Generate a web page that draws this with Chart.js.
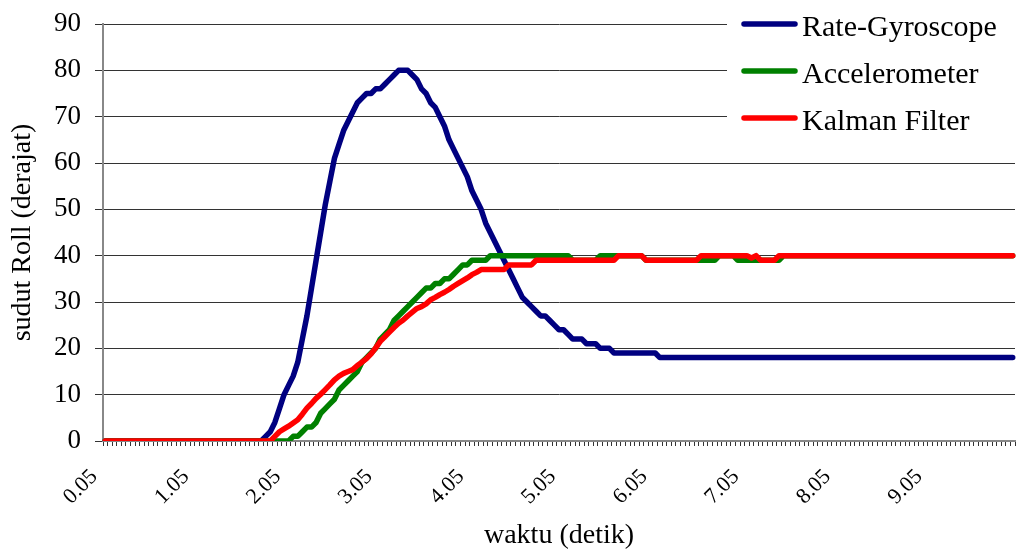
<!DOCTYPE html>
<html>
<head>
<meta charset="utf-8">
<title>sudut Roll</title>
<script src="https://cdn.jsdelivr.net/npm/chart.js@4.4.1/dist/chart.umd.min.js"></script>
<style>
  html, body { margin: 0; padding: 0; background: #fff; }
  canvas { display: block; }
</style>
</head>
<body>
<canvas id="rollChart" width="1016" height="554"></canvas>
<script>
// Roll angle of the board, sampled every 0.05 s
const SAMPLE_STEP = 0.05;
const SAMPLE_COUNT = 199;
const timeLabels = [];
for (let i = 1; i <= SAMPLE_COUNT; i++) timeLabels.push((i * SAMPLE_STEP).toFixed(2));

// only every 20th sample gets a label on the time axis
const shownTicks = ['0.05', '1.05', '2.05', '3.05', '4.05', '5.05', '6.05', '7.05', '8.05', '9.05'];
const yTicks = [0, 10, 20, 30, 40, 50, 60, 70, 80, 90];

const seriesNames = ['Rate-Gyroscope', 'Accelerometer', 'Kalman Filter'];
const seriesColors = ['#000080', '#008000', '#ff0000'];

const rateGyroscope = [
    0, 0, 0, 0, 0, 0, 0, 0, 0, 0, 0, 0, 0, 0, 0, 0, 0, 0, 0, 0,
    0, 0, 0, 0, 0, 0, 0, 0, 0, 0, 0, 0, 0, 0, 0, 1, 2, 4, 7, 10,
    12, 14, 17, 22, 27, 33, 39, 45, 51, 56, 61, 64, 67, 69, 71, 73, 74, 75, 75, 76,
    76, 77, 78, 79, 80, 80, 80, 79, 78, 76, 75, 73, 72, 70, 68, 65, 63, 61, 59, 57,
    54, 52, 50, 47, 45, 43, 41, 39, 37, 35, 33, 31, 30, 29, 28, 27, 27, 26, 25, 24,
    24, 23, 22, 22, 22, 21, 21, 21, 20, 20, 20, 19, 19, 19, 19, 19, 19, 19, 19, 19,
    19, 18, 18, 18, 18, 18, 18, 18, 18, 18, 18, 18, 18, 18, 18, 18, 18, 18, 18, 18,
    18, 18, 18, 18, 18, 18, 18, 18, 18, 18, 18, 18, 18, 18, 18, 18, 18, 18, 18, 18,
    18, 18, 18, 18, 18, 18, 18, 18, 18, 18, 18, 18, 18, 18, 18, 18, 18, 18, 18, 18,
    18, 18, 18, 18, 18, 18, 18, 18, 18, 18, 18, 18, 18, 18, 18, 18, 18, 18, 18
];

const accelerometer = [
    0, 0, 0, 0, 0, 0, 0, 0, 0, 0, 0, 0, 0, 0, 0, 0, 0, 0, 0, 0,
    0, 0, 0, 0, 0, 0, 0, 0, 0, 0, 0, 0, 0, 0, 0, 0, 0, 0, 0, 0,
    0, 1, 1, 2, 3, 3, 4, 6, 7, 8, 9, 11, 12, 13, 14, 15, 17, 18, 19, 20,
    22, 23, 24, 26, 27, 28, 29, 30, 31, 32, 33, 33, 34, 34, 35, 35, 36, 37, 38, 38,
    39, 39, 39, 39, 40, 40, 40, 40, 40, 40, 40, 40, 40, 40, 40, 40, 40, 40, 40, 40,
    40, 40, 39, 39, 39, 39, 39, 39, 40, 40, 40, 40, 40, 40, 40, 40, 40, 40, 39, 39,
    39, 39, 39, 39, 39, 39, 39, 39, 39, 39, 39, 39, 39, 39, 40, 40, 40, 40, 39, 39,
    39, 39, 39, 39, 39, 39, 39, 39, 40, 40, 40, 40, 40, 40, 40, 40, 40, 40, 40, 40,
    40, 40, 40, 40, 40, 40, 40, 40, 40, 40, 40, 40, 40, 40, 40, 40, 40, 40, 40, 40,
    40, 40, 40, 40, 40, 40, 40, 40, 40, 40, 40, 40, 40, 40, 40, 40, 40, 40, 40
];

const kalmanFilter = [
    0, 0, 0, 0, 0, 0, 0, 0, 0, 0, 0, 0, 0, 0, 0, 0, 0, 0, 0, 0,
    0, 0, 0, 0, 0, 0, 0, 0, 0, 0, 0, 0, 0, 0, 0, 0, 0, 1, 2, 2.6,
    3.2, 3.9, 4.6, 5.8, 7.1, 8.1, 9.2, 10.1, 11.1, 12.1, 13.2, 14, 14.6, 15, 15.4, 16.3, 17, 17.8, 18.8, 20.1,
    21.5, 22.5, 23.5, 24.5, 25.4, 26.1, 27, 27.8, 28.6, 29, 29.6, 30.5, 31, 31.6, 32.1, 32.7, 33.4, 34, 34.6, 35.2,
    35.9, 36.4, 37, 37, 37, 37, 37, 37, 38, 38, 38, 38, 38, 38, 39, 39, 39, 39, 39, 39,
    39, 39, 39, 39, 39, 39, 39, 39, 39, 39, 39, 39, 40, 40, 40, 40, 40, 40, 39, 39,
    39, 39, 39, 39, 39, 39, 39, 39, 39, 39, 40, 40, 40, 40, 40, 40, 40, 40, 40, 40,
    40, 39.5, 40, 39, 39, 39, 39, 40, 40, 40, 40, 40, 40, 40, 40, 40, 40, 40, 40, 40,
    40, 40, 40, 40, 40, 40, 40, 40, 40, 40, 40, 40, 40, 40, 40, 40, 40, 40, 40, 40,
    40, 40, 40, 40, 40, 40, 40, 40, 40, 40, 40, 40, 40, 40, 40, 40, 40, 40, 40
];

const SERIF = "'Liberation Serif', 'Times New Roman', serif";

// Legend sits in a white box over the top-right corner of the plot
const boxLegend = {
    id: 'boxLegend',
    afterDraw(chart) {
        const ctx = chart.ctx;
        ctx.save();
        ctx.fillStyle = '#fff';
        ctx.fillRect(727, 0, chart.width - 727, 142);
        ctx.font = '30px ' + SERIF;
        ctx.textBaseline = 'alphabetic';
        ctx.textAlign = 'left';
        seriesNames.forEach((name, i) => {
            const y = 24 + i * 47;
            ctx.strokeStyle = seriesColors[i];
            ctx.lineWidth = 5.5;
            ctx.lineCap = 'round';
            ctx.beginPath();
            ctx.moveTo(744, y);
            ctx.lineTo(795, y);
            ctx.stroke();
            ctx.fillStyle = '#000';
            ctx.fillText(name, 802, y + 12);
        });
        ctx.restore();
    }
};

function makeDataset(i, data) {
    return {
        label: seriesNames[i],
        data: data,
        borderColor: seriesColors[i],
        backgroundColor: seriesColors[i],
        borderWidth: 5.5,
        pointRadius: 0,
        tension: 0,
        borderJoinStyle: 'round',
        borderCapStyle: 'round',
        fill: false,
        order: 3 - i
    };
}

const ctx = document.getElementById('rollChart').getContext('2d');
const chart = new Chart(ctx, {
    type: 'line',
    data: {
        labels: timeLabels,
        datasets: [
            makeDataset(0, rateGyroscope),
            makeDataset(1, accelerometer),
            makeDataset(2, kalmanFilter)
        ]
    },
    options: {
        responsive: false,
        animation: false,
        devicePixelRatio: 1,
        layout: { padding: { top: 24, right: 1, left: 0, bottom: 0 } },
        plugins: {
            legend: { display: false },
            tooltip: { enabled: false }
        },
        scales: {
            x: {
                type: 'category',
                offset: true,
                grid: {
                    display: true,
                    drawOnChartArea: false,
                    drawTicks: true,
                    tickLength: 5,
                    tickColor: '#333',
                    offset: true
                },
                border: { display: true, color: '#888', width: 2 },
                ticks: {
                    autoSkip: false,
                    maxRotation: 45,
                    minRotation: 45,
                    padding: 18,
                    labelOffset: -11,
                    color: '#000',
                    font: { family: SERIF, size: 22 },
                    callback: function(value) {
                        const label = this.getLabelForValue(value);
                        return shownTicks.includes(label) ? label : '';
                    }
                },
                title: {
                    display: true,
                    text: 'waktu (detik)',
                    color: '#000',
                    font: { family: SERIF, size: 28 },
                    padding: { top: 0, bottom: 2 }
                },
                afterFit(scale) {
                    scale.height = 113;
                    scale.paddingLeft = 0;
                    scale.paddingRight = 0;
                }
            },
            y: {
                min: 0,
                max: 90,
                grid: {
                    color: '#333',
                    lineWidth: 1,
                    tickLength: 8,
                    tickColor: '#333'
                },
                border: { display: true, color: '#888', width: 2 },
                ticks: {
                    stepSize: 10,
                    padding: 14,
                    color: '#000',
                    font: { family: SERIF, size: 27 },
                    callback: v => (yTicks.includes(v) ? v : '')
                },
                title: {
                    display: true,
                    text: 'sudut Roll (derajat)',
                    color: '#000',
                    font: { family: SERIF, size: 28 },
                    padding: { top: 6, bottom: 0 }
                },
                afterFit(scale) {
                    scale.width = 103;
                    scale.paddingTop = 0;
                    scale.paddingBottom = 0;
                }
            }
        }
    },
    plugins: [boxLegend]
});
</script>
</body>
</html>
